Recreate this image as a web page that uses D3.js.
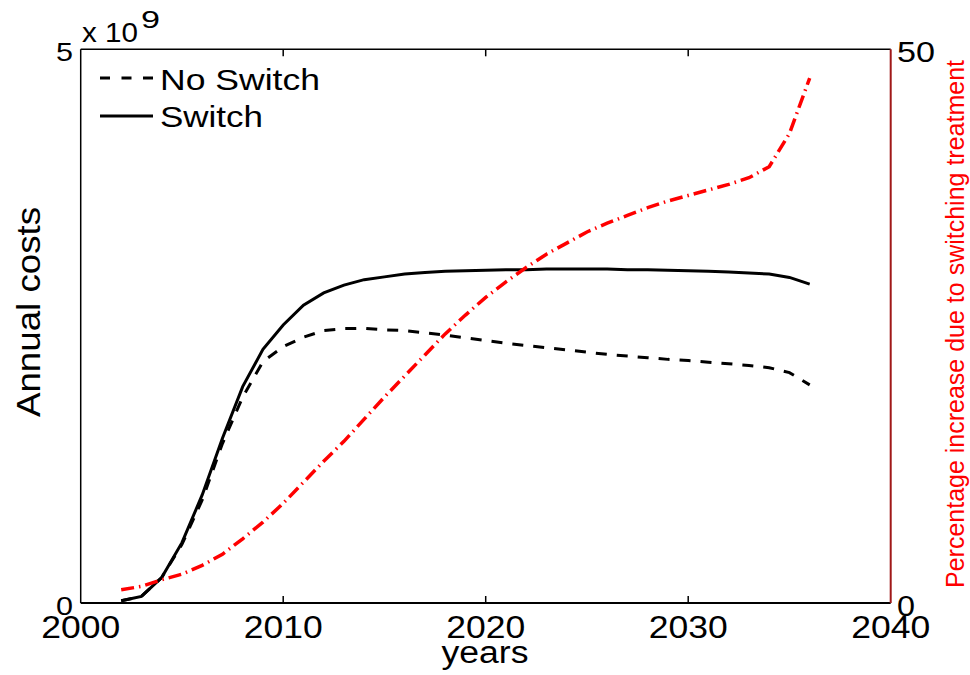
<!DOCTYPE html>
<html><head><meta charset="utf-8">
<script src="https://cdn.jsdelivr.net/npm/d3@7"></script>
<style>body{margin:0;background:#fff}svg{display:block}text{font-family:"Liberation Sans",Arial,sans-serif}</style>
</head><body>
<svg id="c" width="970" height="675"></svg>
<script>
const years = d3.range(2002, 2037);
const noSwitch = [0.02,0.06,0.23,0.53,0.93,1.44,1.86,2.18,2.315,2.40,2.46,2.478,2.48,2.466,2.46,2.44,2.42,2.395,2.37,2.345,2.325,2.305,2.285,2.265,2.245,2.23,2.215,2.20,2.19,2.175,2.16,2.145,2.125,2.08,1.97];
const switchVals = [0.02,0.06,0.23,0.545,0.976,1.488,1.954,2.29,2.51,2.69,2.80,2.87,2.92,2.945,2.97,2.985,2.995,3.0,3.005,3.01,3.01,3.015,3.015,3.015,3.015,3.01,3.01,3.005,3.0,2.995,2.99,2.98,2.97,2.94,2.88];
const pctIncrease = [1.2,1.5,2.1,2.6,3.4,4.4,5.8,7.3,9.0,10.9,12.8,14.6,16.6,18.6,20.5,22.4,24.3,26.0,27.6,29.0,30.3,31.5,32.5,33.5,34.3,35.0,35.7,36.3,36.8,37.3,37.8,38.4,39.4,42.4,47.4];
const xTicks = [2000,2010,2020,2030,2040];
const yLeftTicks = [0,5];
const yRightTicks = [0,50];
const legendLabels = ["No Switch","Switch"];

const svg = d3.select("#c");
const L = 80.7, R = 890.7, T = 49.3, B = 603;
const x = d3.scaleLinear().domain([2000,2040]).range([L,R]);
const yL = d3.scaleLinear().domain([0,5e9]).range([B,T]);
const yR = d3.scaleLinear().domain([0,50]).range([B,T]);
const red = "#ff0000", darkRed = "#a01818";

function txt(s, px, py, fs, len, opts={}) {
  const t = svg.append("text").attr("x",px).attr("y",py).attr("font-size",fs)
    .attr("fill",opts.fill||"#000").attr("text-anchor",opts.anchor||"start").text(s);
  if (len) t.attr("textLength",len).attr("lengthAdjust","spacingAndGlyphs");
  if (opts.rot) t.attr("transform",`rotate(-90,${px},${py})`);
  return t;
}

// lines
const lineL = (arr) => d3.line().x((d,i)=>x(years[i])).y(d=>yL(d*1e9))(arr);
svg.append("path").attr("d",lineL(noSwitch)).attr("fill","none").attr("stroke","#000")
  .attr("stroke-width",3).attr("stroke-dasharray","11,10");
svg.append("path").attr("d",lineL(switchVals)).attr("fill","none").attr("stroke","#000")
  .attr("stroke-width",3);
svg.append("path").attr("d",d3.line().x((d,i)=>x(years[i])).y(d=>yR(d))(pctIncrease))
  .attr("fill","none").attr("stroke",red).attr("stroke-width",3.5).attr("stroke-dasharray","13,5,1.5,5");

// box & axes
svg.append("line").attr("x1",L).attr("x2",R).attr("y1",T).attr("y2",T).attr("stroke","#000").attr("stroke-width",1.5);
svg.append("line").attr("x1",L).attr("x2",R).attr("y1",B).attr("y2",B).attr("stroke","#000").attr("stroke-width",2);
svg.append("line").attr("x1",L).attr("x2",L).attr("y1",T).attr("y2",B).attr("stroke","#000").attr("stroke-width",1.5);
svg.append("line").attr("x1",R).attr("x2",R).attr("y1",T).attr("y2",B).attr("stroke",darkRed).attr("stroke-width",2);
xTicks.slice(1,-1).forEach(v=>{
  svg.append("line").attr("x1",x(v)).attr("x2",x(v)).attr("y1",B).attr("y2",B-7).attr("stroke","#000").attr("stroke-width",1.5);
  svg.append("line").attr("x1",x(v)).attr("x2",x(v)).attr("y1",T).attr("y2",T+7).attr("stroke","#000").attr("stroke-width",1.5);
});

// tick labels
xTicks.forEach(v=> txt(String(v), x(v), 638, 32, 79, {anchor:"middle"}));
yLeftTicks.forEach(v=> txt(String(v), 73, yL(v*1e9)+12, 25, 17, {anchor:"end"}));
yRightTicks.forEach(v=> txt(String(v), 897, yR(v)+13, 29, v===0?18:38));
txt("x 10", 82, 42, 28, 56);
txt("9", 141, 28, 24, 19);

// axis titles
txt("years", 485, 663, 31, 87, {anchor:"middle"});
txt("Annual costs", 40, 312, 34, 210, {anchor:"middle", rot:true});
txt("Percentage increase due to switching treatment", 964, 324, 26, 528, {anchor:"middle", rot:true, fill:red});

// legend
svg.append("line").attr("x1",100).attr("x2",153).attr("y1",78).attr("y2",78).attr("stroke","#000").attr("stroke-width",3).attr("stroke-dasharray","10,11.5");
svg.append("line").attr("x1",100).attr("x2",153).attr("y1",116).attr("y2",116).attr("stroke","#000").attr("stroke-width",3);
txt(legendLabels[0], 160, 90, 30, 160);
txt(legendLabels[1], 160, 127, 30, 103);
</script>
</body></html>
